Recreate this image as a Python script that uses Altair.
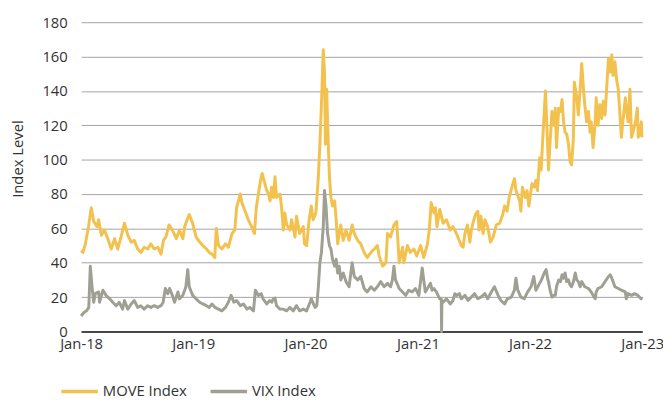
import altair as alt
import pandas as pd

series_names = ["MOVE Index", "VIX Index"]
series_colors = ["#F2C14E", "#A09F94"]
y_ticks = [0, 20, 40, 60, 80, 100, 120, 140, 160, 180]

move_dates = [
    "2018-01-01", "2018-01-07", "2018-01-15", "2018-01-25", "2018-02-03", "2018-02-11", "2018-02-22", "2018-02-27",
    "2018-03-08", "2018-03-18", "2018-03-29", "2018-04-09", "2018-04-20", "2018-04-30", "2018-05-11", "2018-05-22",
    "2018-06-02", "2018-06-13", "2018-06-23", "2018-07-04", "2018-07-15", "2018-07-25", "2018-08-06", "2018-08-16",
    "2018-08-27", "2018-09-08", "2018-09-18", "2018-09-26", "2018-10-04", "2018-10-14", "2018-10-25", "2018-11-07",
    "2018-11-17", "2018-11-28", "2018-12-04", "2018-12-14", "2018-12-19", "2018-12-30",
    "2019-01-10", "2019-01-22", "2019-02-01", "2019-02-13", "2019-02-22", "2019-03-03", "2019-03-12", "2019-03-17",
    "2019-03-24", "2019-04-04", "2019-04-16", "2019-04-25", "2019-05-07", "2019-05-16", "2019-05-22", "2019-06-03",
    "2019-06-08", "2019-06-19", "2019-06-29", "2019-07-10", "2019-07-19", "2019-07-25", "2019-08-07", "2019-08-13",
    "2019-08-22", "2019-08-28", "2019-09-03", "2019-09-08", "2019-09-13", "2019-09-19", "2019-09-24", "2019-09-29",
    "2019-10-10", "2019-10-15", "2019-10-21", "2019-10-26", "2019-11-01", "2019-11-12", "2019-11-17", "2019-11-28",
    "2019-12-03", "2019-12-13", "2019-12-25", "2019-12-29",
    "2020-01-05", "2020-01-13", "2020-01-20", "2020-01-26", "2020-02-04", "2020-02-12", "2020-02-17", "2020-02-22",
    "2020-02-28", "2020-03-03", "2020-03-06", "2020-03-10", "2020-03-13", "2020-03-19", "2020-03-24", "2020-03-29",
    "2020-04-05", "2020-04-10", "2020-04-15", "2020-04-20", "2020-04-25", "2020-05-03", "2020-05-12", "2020-05-22",
    "2020-06-01", "2020-06-08", "2020-06-19", "2020-06-29", "2020-07-10", "2020-07-20", "2020-08-01", "2020-08-12",
    "2020-08-22", "2020-08-28", "2020-09-08", "2020-09-19", "2020-09-24", "2020-10-04", "2020-10-15", "2020-10-24",
    "2020-11-01", "2020-11-12", "2020-11-16", "2020-11-28", "2020-12-07", "2020-12-19", "2020-12-28",
    "2021-01-10", "2021-01-20", "2021-02-01", "2021-02-07", "2021-02-13", "2021-02-22", "2021-02-27", "2021-03-04",
    "2021-03-13", "2021-03-24", "2021-04-04", "2021-04-16", "2021-04-25", "2021-05-01", "2021-05-11", "2021-05-22",
    "2021-05-28", "2021-06-03", "2021-06-11", "2021-06-19", "2021-06-24", "2021-06-29", "2021-07-07", "2021-07-15",
    "2021-07-19", "2021-07-25", "2021-08-01", "2021-08-07", "2021-08-16", "2021-08-25", "2021-09-03", "2021-09-13",
    "2021-09-24", "2021-10-04", "2021-10-10", "2021-10-18", "2021-10-25", "2021-11-03", "2021-11-11", "2021-11-16",
    "2021-11-28", "2021-12-02", "2021-12-07", "2021-12-16", "2021-12-22", "2021-12-28",
    "2022-01-07", "2022-01-15", "2022-01-20", "2022-01-25", "2022-02-01", "2022-02-06", "2022-02-13", "2022-02-20",
    "2022-02-25", "2022-03-02", "2022-03-07", "2022-03-13", "2022-03-19", "2022-03-24", "2022-03-28", "2022-04-04",
    "2022-04-10", "2022-04-15", "2022-04-20", "2022-04-25", "2022-04-30", "2022-05-06", "2022-05-11", "2022-05-16",
    "2022-05-22", "2022-05-25", "2022-06-02", "2022-06-07", "2022-06-13", "2022-06-18", "2022-06-23", "2022-06-28",
    "2022-07-04", "2022-07-10", "2022-07-15", "2022-07-19", "2022-07-25", "2022-08-01", "2022-08-04", "2022-08-10",
    "2022-08-16", "2022-08-22", "2022-08-27", "2022-09-02", "2022-09-07", "2022-09-13", "2022-09-19", "2022-09-24",
    "2022-09-28", "2022-10-04", "2022-10-10", "2022-10-15", "2022-10-19", "2022-10-25", "2022-10-31", "2022-11-07",
    "2022-11-10", "2022-11-16", "2022-11-22", "2022-11-27", "2022-12-02", "2022-12-10", "2022-12-16", "2022-12-19",
    "2022-12-25", "2022-12-29", "2022-12-31",
]
move_values = [
    47, 46, 51, 61, 72, 64, 61, 65,
    56, 59, 54, 48, 54, 48, 55, 63,
    56, 52, 53, 48, 46, 49, 48, 51,
    48, 49, 45, 53, 55, 62, 59, 54,
    59, 54, 61, 66, 68, 63,
    55, 52, 50, 48, 46, 45, 43, 60,
    50, 48, 51, 49, 57, 59, 72, 80,
    75, 70, 65, 61, 57, 72, 87, 92,
    86, 82, 80, 76, 84, 78, 90, 78,
    80, 73, 59, 69, 62, 59, 65, 55,
    67, 57, 61, 51,
    50, 65, 73, 65, 69, 90, 109, 132,
    164, 151, 109, 141, 122, 90, 78, 73,
    76, 65, 51, 57, 62, 53, 59, 53,
    62, 57, 53, 51, 46, 43, 46, 48,
    50, 44, 38, 40, 57, 55, 62, 64,
    40, 49, 40, 50, 46, 48, 44,
    50, 43, 51, 59, 75, 69, 72, 61,
    71, 63, 65, 59, 61, 59, 55, 50,
    49, 57, 62, 52, 59, 63, 68, 70,
    59, 67, 57, 65, 61, 52, 55, 62,
    63, 68, 73, 70, 78, 84, 89, 82,
    76, 70, 84, 78, 82, 73,
    86, 84, 88, 82, 101, 94, 118, 140,
    118, 94, 110, 128, 120, 130, 107, 130,
    128, 135, 122, 116, 115, 109, 99, 97,
    113, 145, 136, 126, 141, 156, 143, 132,
    122, 128, 116, 122, 107, 122, 136, 120,
    132, 124, 134, 126, 141, 159, 151, 161,
    149, 157, 146, 141, 130, 113, 124, 136,
    130, 122, 141, 113, 116, 122, 130, 113,
    116, 122, 113,
]

vix_dates = [
    "2018-01-01", "2018-01-10", "2018-01-19", "2018-01-26", "2018-01-31", "2018-02-05", "2018-02-11", "2018-02-16",
    "2018-02-27", "2018-03-02", "2018-03-13", "2018-03-23", "2018-04-04", "2018-04-14", "2018-04-25", "2018-05-05",
    "2018-05-16", "2018-05-22", "2018-06-02", "2018-06-13", "2018-06-23", "2018-07-04", "2018-07-14", "2018-07-25",
    "2018-08-06", "2018-08-16", "2018-08-27", "2018-09-07", "2018-09-18", "2018-09-25", "2018-10-02", "2018-10-10",
    "2018-10-16", "2018-10-25", "2018-11-01", "2018-11-12", "2018-11-17", "2018-11-28", "2018-12-04", "2018-12-08",
    "2018-12-14", "2018-12-19", "2018-12-30",
    "2019-01-10", "2019-01-22", "2019-02-01", "2019-02-13", "2019-02-22", "2019-03-03", "2019-03-13", "2019-03-24",
    "2019-04-04", "2019-04-16", "2019-04-25", "2019-05-04", "2019-05-13", "2019-05-22", "2019-06-03", "2019-06-13",
    "2019-06-25", "2019-07-04", "2019-07-16", "2019-07-22", "2019-08-01", "2019-08-10", "2019-08-16", "2019-08-28",
    "2019-09-07", "2019-09-13", "2019-09-19", "2019-09-24", "2019-09-29", "2019-10-10", "2019-10-20", "2019-11-01",
    "2019-11-11", "2019-11-22", "2019-12-03", "2019-12-13", "2019-12-25",
    "2020-01-05", "2020-01-16", "2020-01-20", "2020-02-01", "2020-02-07", "2020-02-12", "2020-02-17", "2020-02-22",
    "2020-02-28", "2020-03-03", "2020-03-08", "2020-03-13", "2020-03-19", "2020-03-24", "2020-03-29", "2020-04-05",
    "2020-04-10", "2020-04-15", "2020-04-20", "2020-04-25", "2020-05-03", "2020-05-12", "2020-05-22", "2020-06-01",
    "2020-06-08", "2020-06-19", "2020-06-29", "2020-07-10", "2020-07-20", "2020-08-01", "2020-08-12", "2020-08-22",
    "2020-09-02", "2020-09-13", "2020-09-24", "2020-10-04", "2020-10-10", "2020-10-15", "2020-10-20", "2020-11-01",
    "2020-11-12", "2020-11-22", "2020-12-02", "2020-12-13", "2020-12-24",
    "2021-01-04", "2021-01-15", "2021-01-25", "2021-02-11", "2021-02-16", "2021-02-22", "2021-03-02", "2021-03-13",
    "2021-03-18", "2021-03-19", "2021-03-20", "2021-03-24", "2021-04-04", "2021-04-16", "2021-04-25", "2021-05-01",
    "2021-05-07", "2021-05-16", "2021-05-22", "2021-06-03", "2021-06-13", "2021-06-24", "2021-07-04", "2021-07-15",
    "2021-07-25", "2021-08-07", "2021-08-16", "2021-08-28", "2021-09-07", "2021-09-19", "2021-09-28", "2021-10-10",
    "2021-10-19", "2021-11-01", "2021-11-11", "2021-11-16", "2021-11-22", "2021-12-02", "2021-12-13", "2021-12-24",
    "2022-01-04", "2022-01-13", "2022-01-20", "2022-02-01", "2022-02-07", "2022-02-16", "2022-02-22", "2022-02-28",
    "2022-03-02", "2022-03-07", "2022-03-13", "2022-03-19", "2022-03-24", "2022-03-28", "2022-04-04", "2022-04-10",
    "2022-04-15", "2022-04-20", "2022-04-25", "2022-04-30", "2022-05-06", "2022-05-11", "2022-05-16", "2022-05-22",
    "2022-05-28", "2022-06-02", "2022-06-07", "2022-06-13", "2022-06-18", "2022-06-28", "2022-07-10", "2022-07-19",
    "2022-07-25", "2022-08-01", "2022-08-04", "2022-08-10", "2022-08-22", "2022-09-02", "2022-09-13", "2022-09-19",
    "2022-09-24", "2022-09-28", "2022-10-04", "2022-10-15", "2022-10-25", "2022-11-07", "2022-11-10", "2022-11-16",
    "2022-11-27", "2022-12-07", "2022-12-18", "2022-12-28", "2022-12-31",
]
vix_values = [
    9, 11, 12, 14, 38, 27, 17, 22,
    23, 17, 24, 21, 19, 17, 15, 17,
    13, 18, 13, 16, 18, 14, 15, 13,
    15, 14, 15, 14, 15, 17, 25, 22,
    25, 21, 17, 23, 19, 21, 24, 26,
    36, 26, 21,
    19, 17, 16, 15, 14, 16, 14, 13,
    12, 14, 17, 21, 17, 18, 15, 16,
    13, 14, 12, 24, 21, 22, 19, 16,
    18, 17, 19, 19.5, 15, 13, 13, 12,
    14, 12, 15, 12, 13,
    12, 17, 19, 14, 15, 26, 40, 46,
    61, 82, 73, 57, 50, 48, 42, 38,
    42, 34, 38, 30, 34, 29, 26, 40,
    32, 30, 32, 25, 23, 26, 24, 26,
    29, 26, 28, 26, 30, 38, 30, 25,
    23, 21, 24, 23, 25,
    21, 37, 23, 28, 24, 25, 23, 19,
    19, 0, 18, 17, 19, 16, 18, 22,
    21, 22, 19, 21, 18, 20, 22, 19,
    20, 22, 19, 23, 26, 21, 18, 16,
    19, 20, 24, 31, 24, 20, 19, 23,
    26, 32, 24, 28, 30, 34, 36, 30,
    29, 24, 20, 21, 21, 26, 30, 29,
    33, 31, 34, 29, 30, 27, 26, 29,
    34, 30, 29, 26, 29, 26, 25, 23,
    21, 19, 23, 25, 26, 29, 32, 33,
    31, 29, 26, 25, 24, 23, 19, 22,
    21, 22, 21, 19, 20,
]

df = pd.concat([
    pd.DataFrame({"date": pd.to_datetime(move_dates), "value": move_values, "series": series_names[0]}),
    pd.DataFrame({"date": pd.to_datetime(vix_dates), "value": vix_values, "series": series_names[1]}),
], ignore_index=True)

FONT = "Open Sans"
TXT = "#333333"

chart = alt.Chart(df).mark_line(strokeWidth=3, strokeJoin="round").encode(
    x=alt.X("date:T",
            scale=alt.Scale(domain=["2018-01-01T00:00:00", "2023-01-01T00:00:00"], nice=False),
            axis=alt.Axis(title=None, format="%b-%y", tickCount={"interval": "year", "step": 1},
                          grid=False, ticks=False, domain=True, domainColor="#1a1a1a", domainWidth=1.5,
                          labelFlush=False, labelPadding=5, labelFontSize=15, labelFont=FONT,
                          labelColor=TXT, labelOverlap=False)),
    y=alt.Y("value:Q",
            scale=alt.Scale(domain=[0, 180], nice=False),
            axis=alt.Axis(title="Index Level", values=y_ticks, grid=True, gridColor="#A3A3A3", gridWidth=1,
                          domain=False, ticks=False, labelPadding=14, labelFontSize=15, labelFont=FONT,
                          labelColor=TXT, titleFont=FONT, titleFontSize=15, titleFontWeight="normal",
                          titleColor=TXT, titleX=-64, titleY=138, titleAlign="center",
                          titleBaseline="middle")),
    color=alt.Color("series:N",
                    scale=alt.Scale(domain=series_names, range=series_colors),
                    legend=alt.Legend(title=None, orient="none", legendX=-22, legendY=353,
                                      direction="horizontal", symbolType="stroke", symbolSize=1369,
                                      symbolStrokeWidth=3.5, labelFontSize=15, labelFont=FONT,
                                      labelColor=TXT, labelOffset=3, columnPadding=16, padding=0)),
    order=alt.Order("date:T"),
).properties(
    width=568, height=313,
    autosize=alt.AutoSizeParams(type="none"),
    padding={"left": 74, "top": 12, "right": 21, "bottom": 67},
).configure_view(stroke=None)

chart.save("out.html", embed_options={"renderer": "svg", "actions": False})
